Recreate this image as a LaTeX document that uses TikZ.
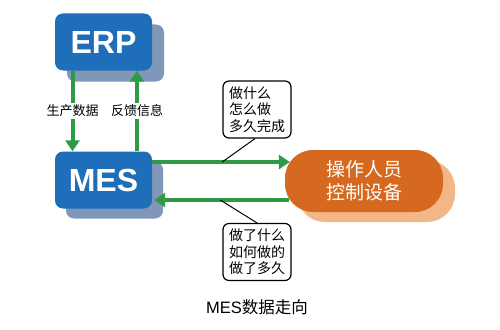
\documentclass[tikz,border=0pt]{standalone}
\usepackage{fontspec}
\setmainfont{Liberation Sans}
\newfontfamily\cjk{Noto Sans CJK SC}
\usetikzlibrary{arrows.meta,calc}
\definecolor{erpblue}{HTML}{1F6EBA}
\definecolor{shblue}{HTML}{8097B9}
\definecolor{arrgreen}{HTML}{2F9A45}
\definecolor{opor}{HTML}{D5691F}
\definecolor{opsh}{HTML}{F3B687}
\begin{document}
\begin{tikzpicture}[x=1pt,y=-1pt,
  bluebox/.style={fill=erpblue, rounded corners=8pt, minimum width=97pt, minimum height=57pt, inner sep=0pt, text=white, font=\fontsize{32}{32}\selectfont\bfseries},
  blueshadow/.style={fill=shblue, rounded corners=8pt, minimum width=97pt, minimum height=57pt, inner sep=0pt},
  orbox/.style={fill=opor, rounded corners=28pt, minimum width=158pt, minimum height=62pt, inner sep=0pt, text=white, align=center, font=\cjk\fontsize{19}{23}\selectfont},
  orshadow/.style={fill=opsh, rounded corners=28pt, minimum width=158pt, minimum height=62pt, inner sep=0pt},
  garrow/.style={draw=arrgreen, line width=4pt, -{Triangle[length=11pt,width=14pt]}},
  vlabel/.style={fill=white, inner sep=2pt, font=\cjk\fontsize{13}{13}\selectfont},
  callout/.style={draw=black, line width=1.2pt, rounded corners=6pt, fill=white, minimum width=68pt, minimum height=57pt, inner sep=3pt, align=left, font=\cjk\fontsize{14}{16.5}\selectfont},
  pointer/.style={draw=black, line width=1pt}]
\path[use as bounding box, fill=white] (0,0) rectangle (500,329);

% ERP and MES with shadows
\node[blueshadow] (erpsh) at (115.5,53) {};
\node[bluebox] (erp) at (103.5,42) {ERP};
\node[blueshadow] (messh) at (114.5,190) {};
\node[bluebox] (mes) at (103.5,180) {MES};

% operator box with shadow
\node[orshadow] (opsh) at (376,191) {};
\node[orbox] (op) at (364,181) {操作人员\\控制设备};

% vertical arrows
\coordinate (d1) at ($(erp.south)+(-31,0)$);
\coordinate (u1) at ($(erp.south)+(33.5,0)$);
\draw[garrow] (d1) -- (d1 |- mes.north) node[pos=0.5, vlabel] (l1) {生产数据};
\draw[garrow] (u1 |- mes.north) -- (u1) node[pos=0.5, vlabel] (l2) {反馈信息};

% horizontal arrows
\coordinate (t1) at ($(mes.east)+(0,-18)$);
\coordinate (b1) at ($(mes.east)+(0,20)$);
\coordinate (t2) at ($(t1 -| op.west)+(5,0)$);
\coordinate (b2) at ($(b1 -| op.west)+(4,0)$);
\draw[garrow] (t1) -- (t2);
\draw[garrow] (b2) -- ($(b1)+(2,0)$);

% callouts
\node[callout] (c1) at (257,109.5) {做什么\\怎么做\\多久完成};
\node[callout] (c2) at (257,252) {做了什么\\如何做的\\做了多久};
\coordinate (p1) at ($(t1)+(70,0)$);
\coordinate (p2) at ($(b1)+(68,0)$);
\draw[pointer] ($(c1.south)+(-2,0)$) -- (p1);
\draw[pointer] (p2) -- (c2.north);

% caption
\node[font=\fontsize{16.5}{16.5}\selectfont] (cap) at (257,307.5) {MES{\cjk 数据走向}};
\end{tikzpicture}
\end{document}
